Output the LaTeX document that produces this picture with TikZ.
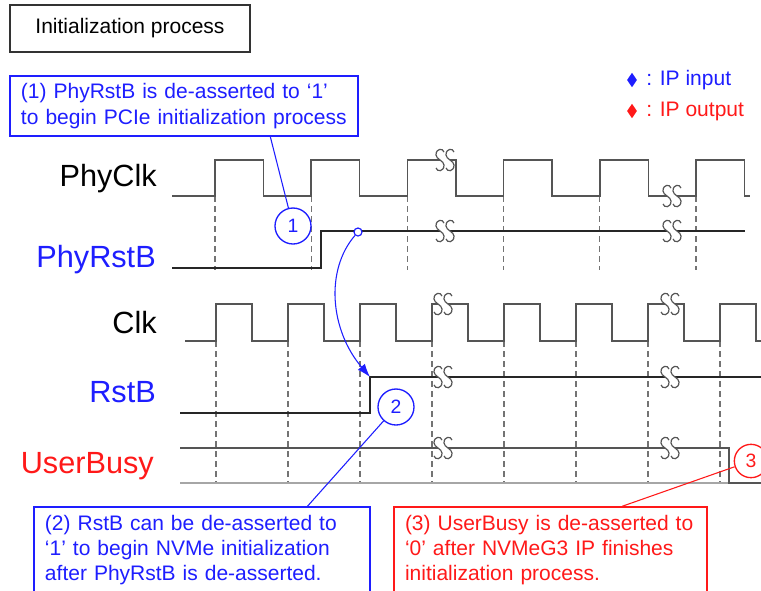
\documentclass[tikz,border=0pt]{standalone}
\usepackage{fontspec}
\setmainfont{Liberation Sans}
\usetikzlibrary{shapes.geometric,arrows.meta,calc}
\definecolor{ipblue}{RGB}{30,30,255}
\definecolor{ipred}{RGB}{255,25,25}
\definecolor{wave}{RGB}{85,85,85}
\definecolor{guide}{RGB}{115,115,115}
\begin{document}
\begin{tikzpicture}[x=0.75pt,y=-0.75pt,
  sig/.style={draw=wave,line width=1.1pt},
  rst/.style={draw=black!85,line width=1pt},
  guide/.style={draw=guide,line width=0.9pt,dash pattern=on 4.5pt off 3pt},
  lbl/.style={anchor=base east,inner sep=0pt,font=\fontsize{23}{27}\selectfont},
  note/.style={draw,line width=1.1pt,align=left,inner xsep=8.25pt,font=\fontsize{15.75}{19}\selectfont},
  num/.style={circle,draw,line width=1pt,minimum size=27pt,inner sep=0pt,fill=white,font=\fontsize{14.5}{17}\selectfont}]
\fill[white] (0,0) rectangle (761,590);
\clip (0,0) rectangle (761,590);
\node[draw=black!80,line width=1.1pt,minimum width=180pt,minimum height=35.25pt,font=\fontsize{15.75}{19}\selectfont] (Initialization_Process) at (130,28.5) {Initialization process};
\node[note,draw=ipblue,text=ipblue,minimum width=261pt,minimum height=45pt,text width=244.5pt] (Note_PhyRstB) at (184,106) {(1) PhyRstB is de-asserted to ‘1’\\to begin PCIe initialization process};
% legend
\node[diamond,fill=ipblue,inner sep=0pt,minimum width=7.5pt,minimum height=11pt] (Mark_In) at (632,80) {};
\node[diamond,fill=ipred,inner sep=0pt,minimum width=7.5pt,minimum height=11pt] (Mark_Out) at (632,111) {};
\node[anchor=west,inner sep=0pt,text=ipblue,font=\fontsize{15.75}{19}\selectfont] (Legend_In) at (646,80) {: IP input};
\node[anchor=west,inner sep=0pt,text=ipred,font=\fontsize{15.75}{19}\selectfont] (Legend_Out) at (646,111) {: IP output};
% signal names
\node[lbl] (PhyClk) at (157,186) {PhyClk};
\node[lbl,text=ipblue] (PhyRstB) at (156,267) {PhyRstB};
\node[lbl] (Clk) at (157,333) {Clk};
\node[lbl,text=ipblue] (RstB) at (156,402) {RstB};
\node[lbl,text=ipred] (UserBusy) at (154,473) {UserBusy};
% guides
\foreach \k in {0,...,5} \draw[guide] ({215+96.2*\k},196) -- ({215+96.2*\k},270);
\foreach \k in {0,...,7} \draw[guide] ({216+72*\k},341) -- ({216+72*\k},484);
% waveforms
\draw[sig] (172,196) foreach \k in {0,...,5} { -- ({215+96.2*\k},196) -- ({215+96.2*\k},160) -- ({263.5+96.2*\k},160) -- ({263.5+96.2*\k},196) } -- (750,196);
\draw[rst] (172,268) -- (321,268) -- (321,231) -- (745,231);
\draw[sig] (185,341) foreach \k in {0,...,7} { -- ({216+72*\k},341) -- ({216+72*\k},304) -- ({252+72*\k},304) -- ({252+72*\k},341) } -- (761,341);
\draw[rst] (180,413) -- (370,413) -- (370,377) -- (761,377);
\draw[draw=black!35,line width=1.1pt] (180,483) -- (729,483);
\draw[sig] (180,448) -- (729,448) -- (729,483) -- (761,483);
% breaks
\foreach \bx/\by in {445/160,672/196,445/231,672/231,443/304,670/304,443/377,670/377,443/448,670/448} {
  \fill[white] (\bx-5,\by-6) rectangle (\bx+5,\by+6);
  \foreach \sx in {-5,5}
    \draw[draw=wave,line width=0.9pt] (\bx+\sx+4,\by-8) .. controls (\bx+\sx+3,\by-12) and (\bx+\sx-4,\by-12) .. (\bx+\sx-4,\by-5) .. controls (\bx+\sx-4,\by-1) and (\bx+\sx+4,\by+1) .. (\bx+\sx+4,\by+5) .. controls (\bx+\sx+4,\by+12) and (\bx+\sx-3,\by+12) .. (\bx+\sx-4,\by+8);
}
% PhyRstB to RstB
\node[circle,draw=ipblue,fill=white,line width=0.9pt,minimum size=6pt,inner sep=0pt] (PhyRstB_Up) at (358,232) {};
\coordinate (RstB_Up) at (370,377);
\draw[ipblue,line width=0.8pt,-{Latex[length=10pt,width=7pt]}] (PhyRstB_Up) .. controls (325,270) and (330,330) .. (RstB_Up);
% callouts
\node[num,draw=ipblue,text=ipblue] (One) at (293,226) {1};
\node[num,draw=ipblue,text=ipblue] (Two) at (396,407) {2};
\node[num,draw=ipred,text=ipred,minimum size=25pt] (Three) at (751,461) {3};
\node[note,draw=ipblue,text=ipblue,minimum width=252pt,minimum height=64.5pt,text width=235.5pt] (Note_RstB) at (202,550) {(2) RstB can be de-asserted to\\‘1’ to begin NVMe initialization\\after PhyRstB is de-asserted.};
\node[note,draw=ipred,text=ipred,minimum width=234.75pt,minimum height=64.5pt,text width=218.25pt] (Note_UserBusy) at (550.5,550) {(3) UserBusy is de-asserted to\\‘0’ after NVMeG3 IP finishes\\initialization process.};
\draw[ipblue,line width=0.8pt] ($(Note_PhyRstB.south west)!0.747!(Note_PhyRstB.south east)$) -- (One);
\draw[ipblue,line width=0.8pt] ($(Note_RstB.north west)!0.8125!(Note_RstB.north east)$) -- (Two);
\draw[ipred,line width=0.8pt] ($(Note_UserBusy.north west)!0.728!(Note_UserBusy.north east)$) -- (Three);
\end{tikzpicture}
\end{document}
